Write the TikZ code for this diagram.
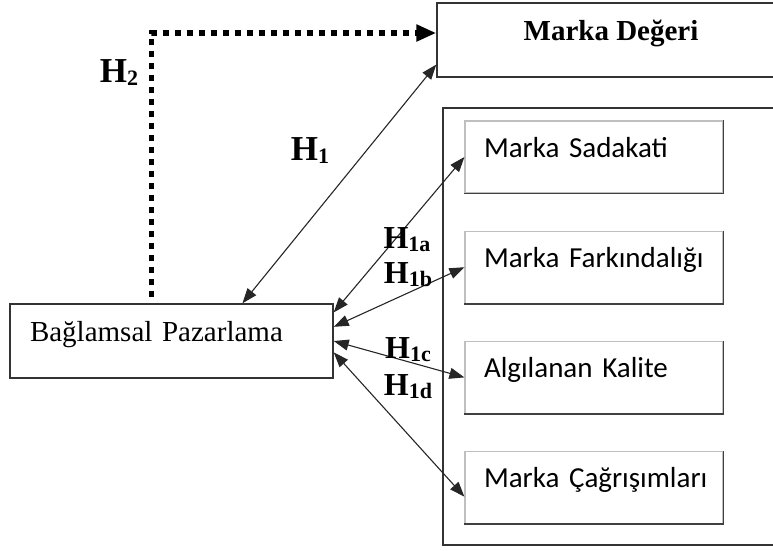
\documentclass[tikz,border=0pt]{standalone}
\usepackage{fontspec}
\setmainfont{Liberation Serif}
\newfontfamily\calibri{Carlito}
\usetikzlibrary{positioning,arrows.meta,calc}

\newcommand{\hyp}[1]{H\raisebox{-3pt}{\fontsize{22}{22}\selectfont #1}}

\begin{document}
\begin{tikzpicture}[
    x=1pt, y=-1pt,
    node distance=37pt,
    box/.style     ={draw=black!80,line width=1.4pt,text height=20pt,text depth=20pt},
    mainbox/.style ={box,minimum width=348pt,minimum height=74pt,
                     font=\fontsize{29}{32}\selectfont\bfseries},
    srcbox/.style  ={box,minimum width=323pt,minimum height=74pt,inner xsep=20pt,
                     text width=283pt,align=left,font=\fontsize{29}{32}\selectfont},
    dimbox/.style  ={draw=black!25,line width=1.2pt,minimum width=258pt,minimum height=72pt,
                     inner xsep=12pt,text width=234pt,align=left,
                     execute at begin node={\hspace*{7pt}},
                     text height=20pt,text depth=20pt,font=\calibri\fontsize{29}{32}\selectfont,
                     append after command={(\tikzlastnode.north east) edge[edgeline]
                       (\tikzlastnode.south east) (\tikzlastnode.south east) edge[edgeline]
                       (\tikzlastnode.south west)}},
    edgeline/.style={draw=black!75,line width=1.6pt},
    hlabel/.style  ={inner sep=0pt,font=\fontsize{35}{38}\selectfont\bfseries},
    sublabel/.style={hlabel,font=\fontsize{32}{35}\selectfont\bfseries},
    link/.style    ={{Triangle[length=15pt,width=11pt]}-{Triangle[length=15pt,width=11pt]},
                     black!85,line width=1.1pt},
    effect/.style  ={-{Triangle[length=20pt,width=16pt]},line width=5.5pt,
                     dash pattern=on 6pt off 6pt}
]
\useasboundingbox (0,0) rectangle (773,550);

\node[mainbox] (deger) at (611,40)    {Marka Değeri};
\node[srcbox]  (bp)    at (171.5,341) {Bağlamsal Pazarlama};

% brand equity dimensions
\draw[black!80,line width=1.4pt] (443,108) rectangle (790,545);
\node[dimbox]                  (sadakat)  at (594,157) {Marka Sadakati};
\node[dimbox, below=of sadakat] (farkin)             {Marka Farkındalığı};
\node[dimbox, below=of farkin]  (kalite)             {Algılanan Kalite};
\node[dimbox, below=of kalite]  (cagrisim)           {Marka Çağrışımları};

% hypotheses
\draw[effect] ($(bp.north)+(-20,-6)$) |- ($(deger.west)+(0,-7)$);
\draw[link] (deger.188) -- (bp.28);
\draw[link] (sadakat.west) -- (bp.10);
\draw[link] (farkin.west)  -- (bp.5);
\draw[link] (kalite.west)  -- (bp.0);
\draw[link] (cagrisim.184) -- (bp.-4);

\node[hlabel]   (h2)  at (119,73)  {\hyp{2}};
\node[hlabel]   (h1)  at (310,151) {\hyp{1}};
\node[sublabel] (h1a) at (407,240) {\hyp{1a}};
\node[sublabel] (h1b) at (408,275) {\hyp{1b}};
\node[sublabel] (h1c) at (408,350) {\hyp{1c}};
\node[sublabel] (h1d) at (408,387) {\hyp{1d}};

\end{tikzpicture}
\end{document}
